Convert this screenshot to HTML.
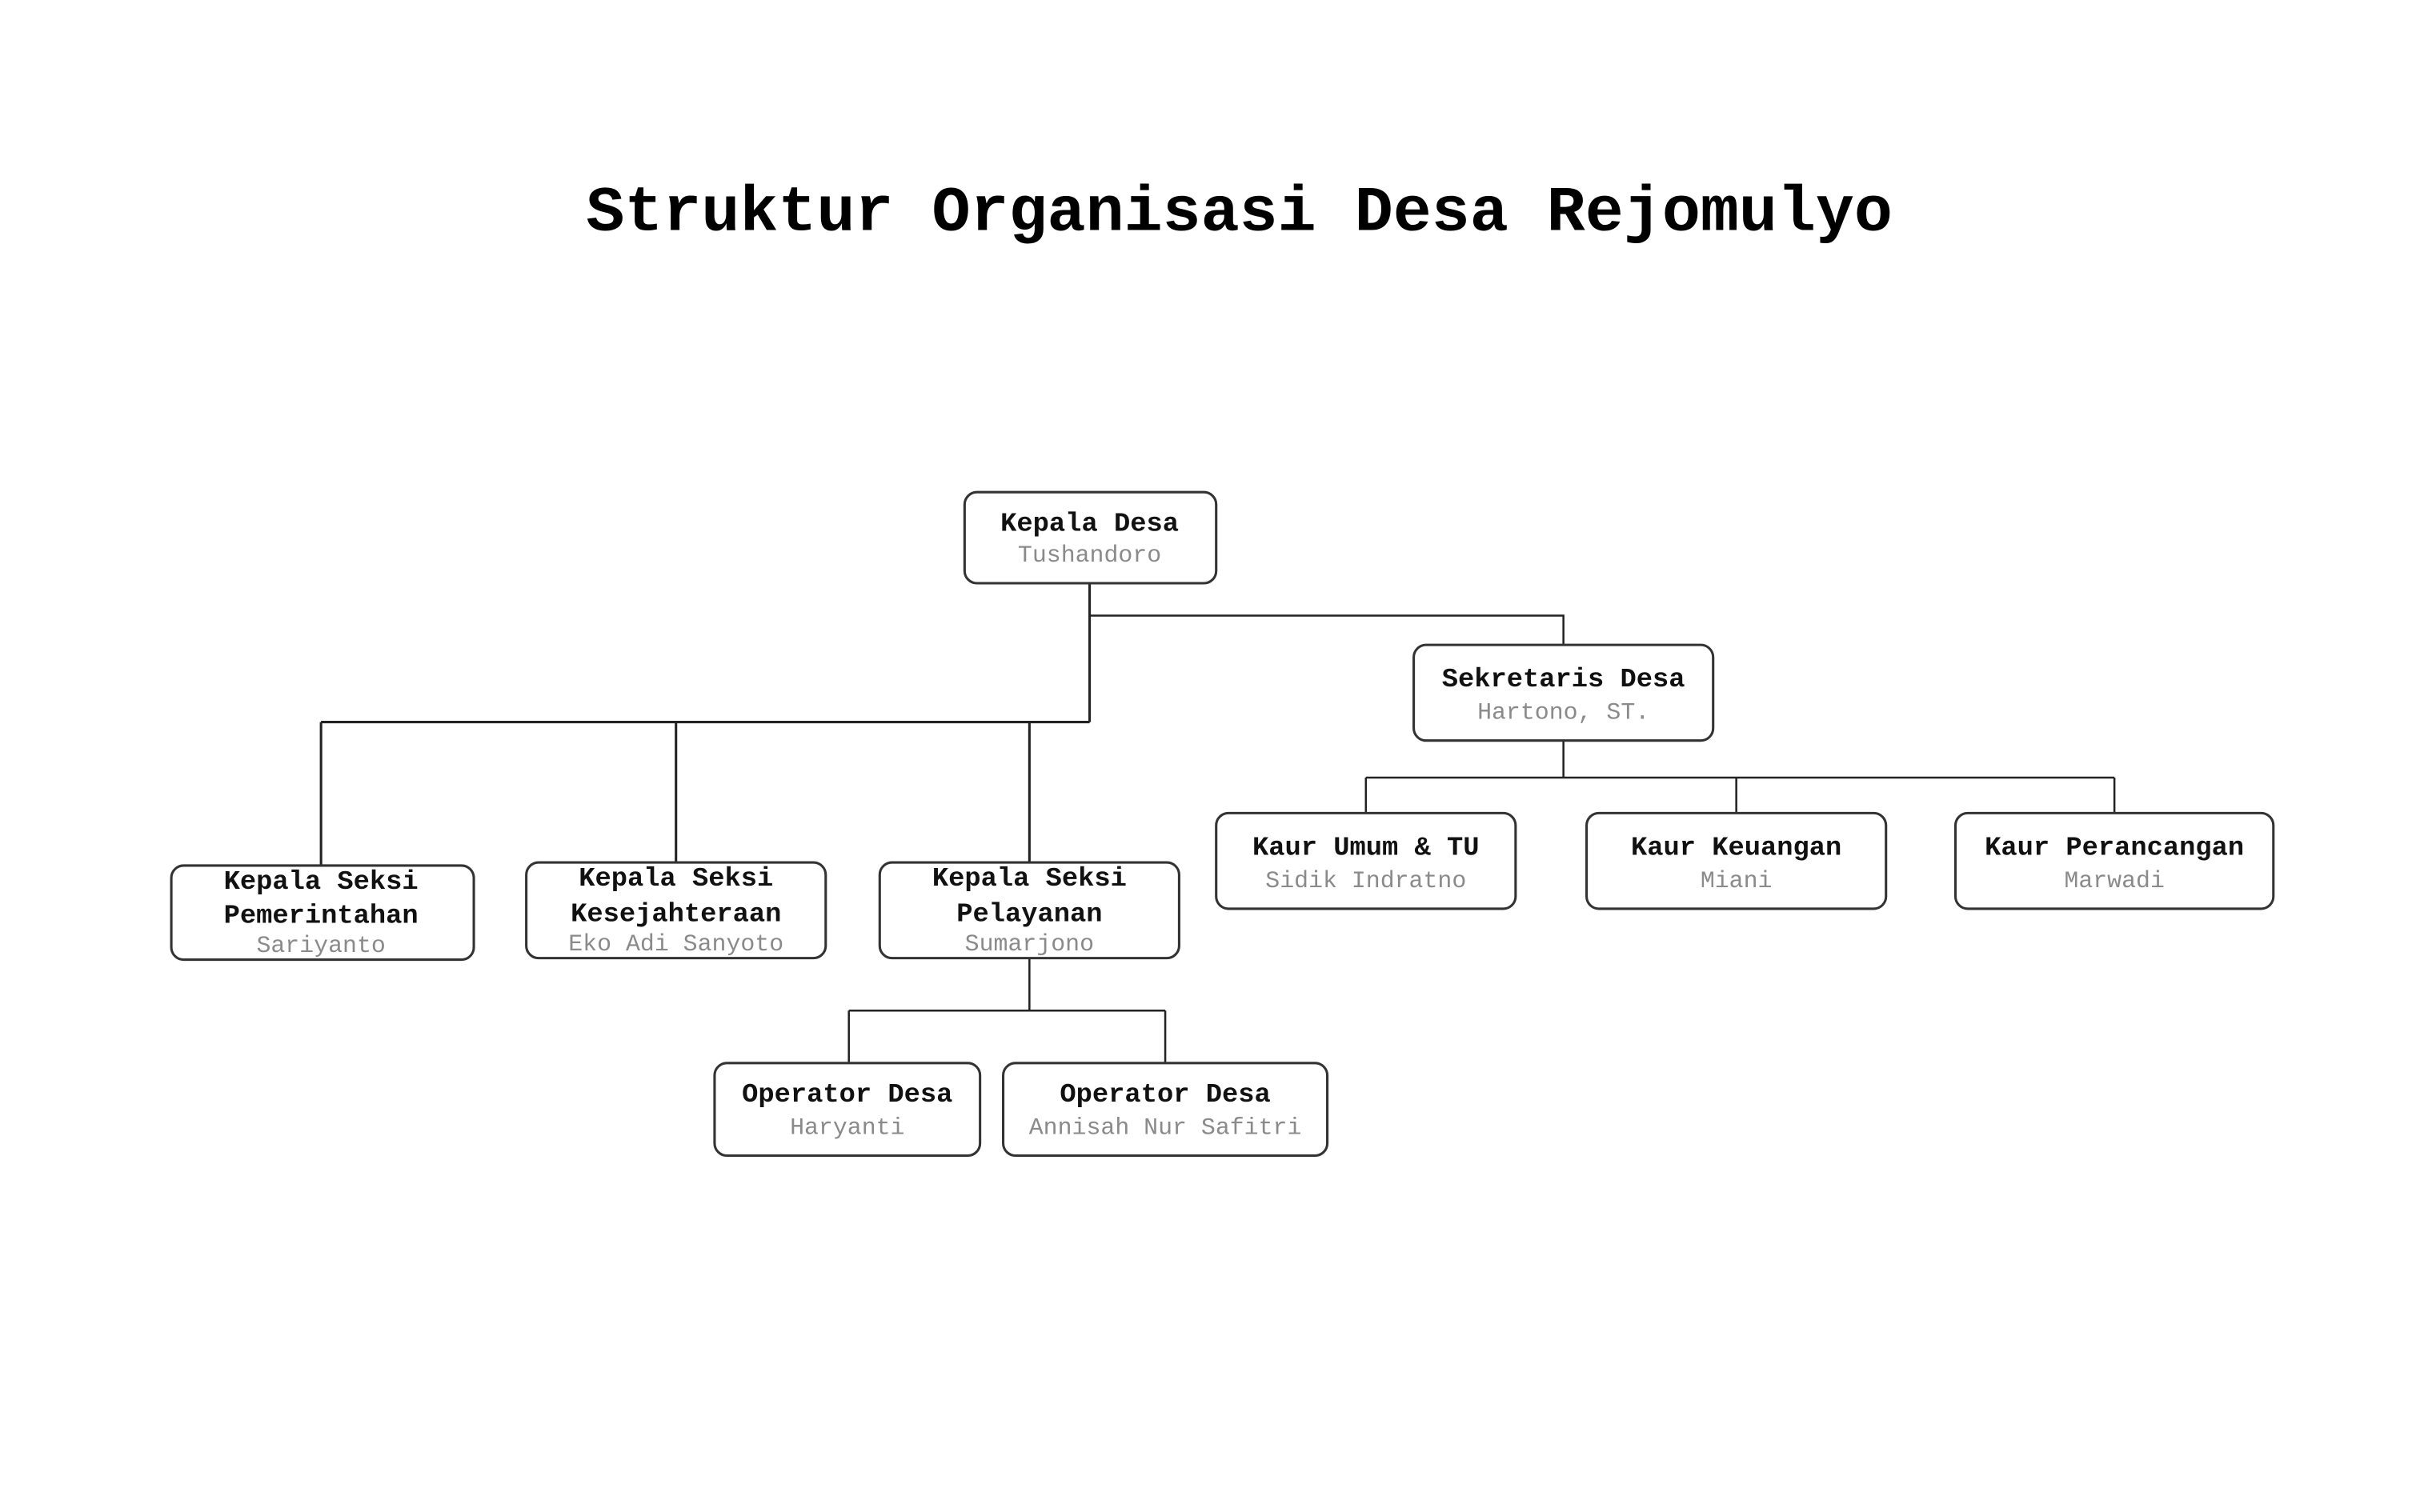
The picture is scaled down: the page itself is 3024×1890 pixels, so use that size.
<!DOCTYPE html>
<html><head><meta charset="utf-8"><style>
html,body{margin:0;padding:0;background:#fff;}
svg{display:block;}
.n{font-family:"Liberation Mono",monospace;font-weight:bold;font-size:17.5px;fill:#111;text-anchor:middle;}
.s{font-family:"Liberation Mono",monospace;font-size:15.5px;fill:#8a8a8a;text-anchor:middle;}
.t{font-family:"Liberation Mono",monospace;font-weight:bold;font-size:41.5px;fill:#000;text-anchor:middle;}
rect{fill:#fff;stroke:#333;stroke-width:1.6;}
path{fill:none;stroke:#222;stroke-width:1.3;}
</style></head><body>
<svg width="3024" height="1890" viewBox="0 0 1568 980" xmlns="http://www.w3.org/2000/svg">
<text class="t" x="803" y="149">Struktur Organisasi Desa Rejomulyo</text>
<path d="M706 378 V468 M208 468 H706 M208 468 V561 M438 468 V559 M667 468 V559" style="stroke-width:1.6"/>
<path d="M706 399 H1013 V418"/>
<path d="M1013 480 V504 M885 504 H1370 M885 504 V527 M1125 504 V527 M1370 504 V527"/>
<path d="M667 621 V655 M550 655 H755 M550 655 V689 M755 655 V689"/>
<rect x="625" y="319" width="163" height="59" rx="8"/>
<text class="n" x="706" y="344">Kepala Desa</text><text class="s" x="706" y="364">Tushandoro</text>
<rect x="916" y="418" width="194" height="62" rx="8"/>
<text class="n" x="1013" y="445">Sekretaris Desa</text><text class="s" x="1013" y="466">Hartono, ST.</text>
<rect x="788" y="527" width="194" height="62" rx="8"/>
<text class="n" x="885" y="554">Kaur Umum &amp; TU</text><text class="s" x="885" y="575">Sidik Indratno</text>
<rect x="1028" y="527" width="194" height="62" rx="8"/>
<text class="n" x="1125" y="554">Kaur Keuangan</text><text class="s" x="1125" y="575">Miani</text>
<rect x="1267" y="527" width="206" height="62" rx="8"/>
<text class="n" x="1370" y="554">Kaur Perancangan</text><text class="s" x="1370" y="575">Marwadi</text>
<rect x="111" y="561" width="196" height="61" rx="8"/>
<text class="n" x="208" y="576">Kepala Seksi</text><text class="n" x="208" y="598">Pemerintahan</text><text class="s" x="208" y="617">Sariyanto</text>
<rect x="341" y="559" width="194" height="62" rx="8"/>
<text class="n" x="438" y="574">Kepala Seksi</text><text class="n" x="438" y="597">Kesejahteraan</text><text class="s" x="438" y="616">Eko Adi Sanyoto</text>
<rect x="570" y="559" width="194" height="62" rx="8"/>
<text class="n" x="667" y="574">Kepala Seksi</text><text class="n" x="667" y="597">Pelayanan</text><text class="s" x="667" y="616">Sumarjono</text>
<rect x="463" y="689" width="172" height="60" rx="8"/>
<text class="n" x="549" y="714">Operator Desa</text><text class="s" x="549" y="735">Haryanti</text>
<rect x="650" y="689" width="210" height="60" rx="8"/>
<text class="n" x="755" y="714">Operator Desa</text><text class="s" x="755" y="735">Annisah Nur Safitri</text>
</svg>
</body></html>
